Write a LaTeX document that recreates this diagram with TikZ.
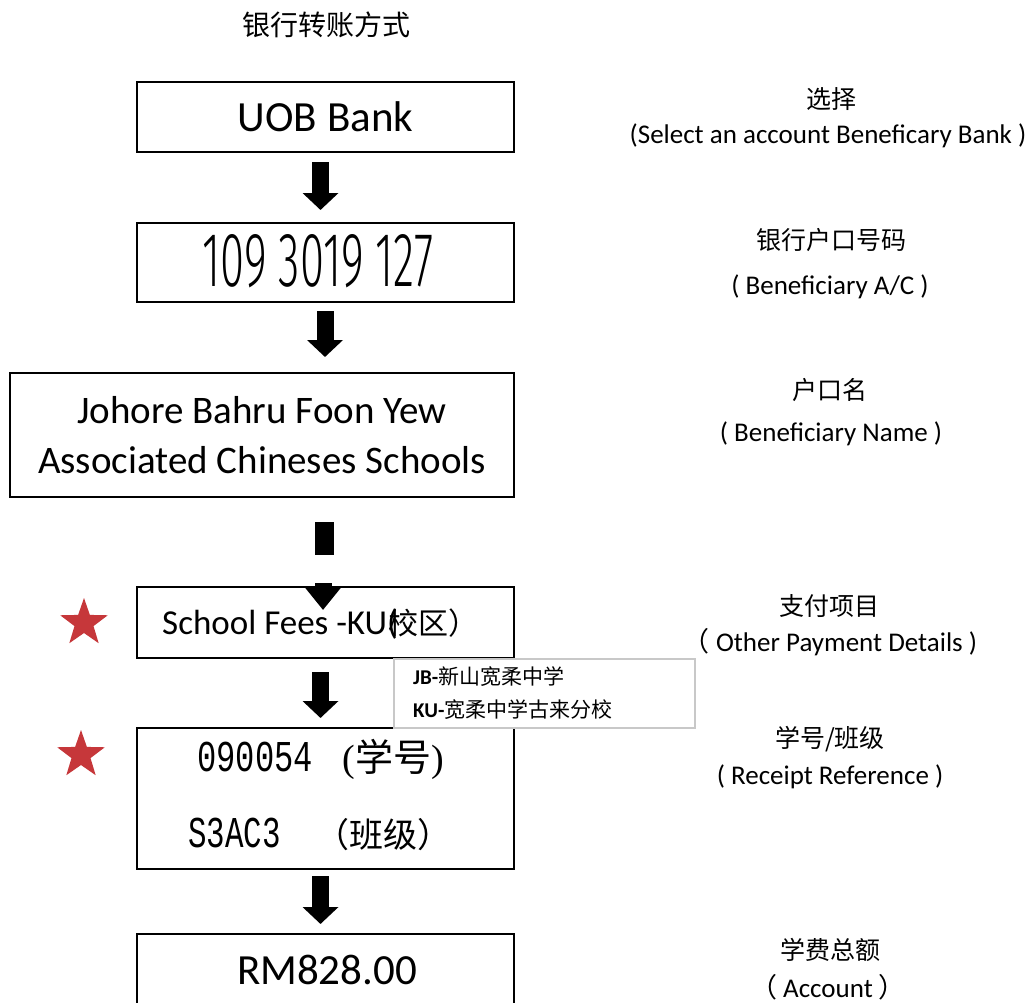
\documentclass[tikz,border=0pt]{standalone}
\usepackage{graphicx}
\usepackage{fontspec}
\setmainfont{Carlito}
\newfontfamily\cjk{Noto Sans CJK SC}
\newfontfamily\monof{Liberation Mono}
\newfontfamily\serf{Liberation Serif}
\IfFontExistsTF{Fira Sans Light}{\newfontfamily\arialf{Fira Sans Light}}{\newfontfamily\arialf{Liberation Sans}}
\usetikzlibrary{arrows.meta,shapes.geometric}
\definecolor{starred}{HTML}{C6373A}
\definecolor{lblgray}{HTML}{C8C8C8}
\begin{document}
\begin{tikzpicture}[x=1pt,y=-1pt,
  box/.style={draw=black,line width=2.2pt,fill=white,inner sep=0pt},
  blockarrow/.style={draw=black,line width=17pt,-{Triangle[width=35pt,length=17pt]}},
  txt/.style={inner sep=0pt,align=center},
  fsz/.style={font=\fontsize{#1}{#1}\selectfont},
  cjkfs/.style={font=\cjk\fontsize{#1}{#1}\selectfont},
  redstar/.style={star,star points=5,star point ratio=2.5,fill=starred,draw=none,minimum size=50pt,inner sep=0pt},
  lblbox/.style={draw=lblgray,line width=1.3pt,fill=white}
]
\useasboundingbox (0,0) rectangle (1031,1002);
\clip (0,0) rectangle (1031,1002);
\fill[white] (0,0) rectangle (1031,1002);

% title
\node[txt,cjkfs=28] (title) at (326,25) {银行转账方式};

% boxes
\node[box,minimum width=377pt,minimum height=70pt,fsz=43] (b1) at (325.5,117) {UOB Bank};
\node[box,minimum width=377pt,minimum height=79pt] (b2) at (325.5,262.5) {};
\node[txt] (b2t) at (318,261) {\arialf\fontsize{72}{72}\selectfont\resizebox{231pt}{52pt}{109 3019 127}};
\node[box,minimum width=504pt,minimum height=124pt,align=center,font=\fontsize{39}{50}\selectfont] (b3) at (262,435) {Johore Bahru Foon Yew\\Associated Chineses Schools};
\node[box,minimum width=377pt,minimum height=71pt] (b4) at (325.5,622.5) {};
\node[txt,anchor=west] (b4t) at (162,624) {\fontsize{35}{35}\selectfont School Fees -KU(\kern-9pt{\cjk\fontsize{30}{30}\selectfont 校区）}};
\node[box,minimum width=377pt,minimum height=141pt] (b5) at (325.5,798.5) {};
\node[txt,anchor=west] (b5a) at (197,759) {{\monof\fontsize{44}{44}\selectfont\scalebox{0.73}[1]{090054}}\hspace{30pt}{\serf\fontsize{38}{38}\selectfont(}{\cjk\fontsize{38}{38}\selectfont 学号}{\serf\fontsize{38}{38}\selectfont)}};
\node[txt,anchor=west] (b5b) at (188,834) {{\monof\fontsize{44}{44}\selectfont\scalebox{0.7}[1]{S3AC3}}\hspace{35pt}{\cjk\fontsize{34}{34}\selectfont （班级）}};
\node[box,minimum width=377pt,minimum height=90pt] (b6) at (325.5,979) {};
\node[txt,fsz=43] (b6t) at (327,970) {RM828.00};

% arrows
\coordinate (a1s) at (320.5,162); \coordinate (a1e) at (320.5,210);
\coordinate (a2s) at (325,311);   \coordinate (a2e) at (325,357);
\coordinate (a4s) at (320.5,672); \coordinate (a4e) at (320.5,718);
\coordinate (a5s) at (320.5,876); \coordinate (a5e) at (320.5,924);
\coordinate (a3s) at (323,583);   \coordinate (a3e) at (323,610);
\draw[blockarrow] (a1s) -- (a1e);
\draw[blockarrow] (a2s) -- (a2e);
\draw[blockarrow] (a4s) -- (a4e);
\draw[blockarrow] (a5s) -- (a5e);
\fill[black] (315,522) rectangle (334,555);
\draw[blockarrow,-{Triangle[width=37pt,length=24pt]}] (a3s) -- (a3e);

% label box
\node[lblbox,minimum width=301pt,minimum height=69pt,inner sep=0pt] (lb) at (544.5,693.5) {};
\node[txt,anchor=west] (lb1) at (413,677) {\fontsize{21}{21}\selectfont\bfseries JB-{\cjk\mdseries 新山宽柔中学}};
\node[txt,anchor=west] (lb2) at (413,710) {\fontsize{21}{21}\selectfont\bfseries KU-{\cjk\mdseries 宽柔中学古来分校}};

% stars
\node[redstar] (s1) at (84,623) {};
\node[redstar] (s2) at (81,755) {};

% right labels
\node[txt,cjkfs=25] (r1a) at (831,99) {选择};
\node[txt,fsz=27] (r1b) at (828,136) {(Select an account Beneficary Bank )};
\node[txt,cjkfs=25] (r2a) at (831,240) {银行户口号码};
\node[txt,fsz=27] (r2b) at (830,287) {( Beneficiary A/C )};
\node[txt,cjkfs=25] (r3a) at (830,390) {户口名};
\node[txt,fsz=27] (r3b) at (831,434) {( Beneficiary Name )};
\node[txt,cjkfs=25] (r4a) at (829,606) {支付项目};
\node[txt,fsz=27] (r4b) at (830,642) {{\cjk （}\ Other Payment Details )};
\node[txt,cjkfs=25] (r5a) at (830,739) {学号/班级};
\node[txt,fsz=27] (r5b) at (830,777) {( Receipt Reference )};
\node[txt,cjkfs=25] (r6a) at (830,950) {学费总额};
\node[txt,fsz=27] (r6b) at (828,987) {{\cjk （}\ Account\ {\cjk ）}};
\end{tikzpicture}
\end{document}
